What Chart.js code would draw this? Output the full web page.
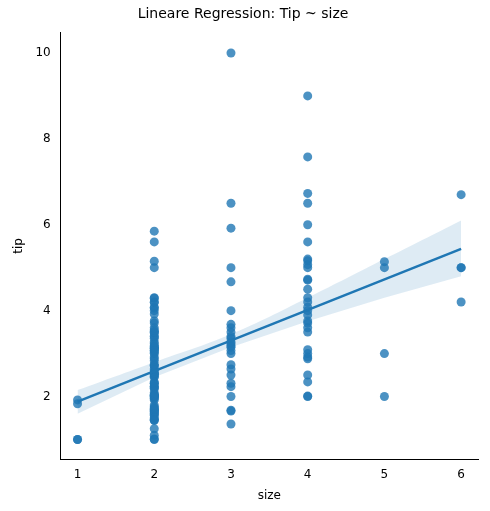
<!DOCTYPE html>
<html><head><meta charset="utf-8">
<script src="https://cdn.jsdelivr.net/npm/chart.js@4"></script>
<style>html,body{margin:0;background:#fff}#w{width:490px;height:511px}</style>
</head><body><div id="w"><canvas id="c"></canvas></div>
<script>
const size1=[1.0,1.92,1.83,1.0];
const size2=[1.0,1.01,1.1,1.25,1.44,1.45,1.47,1.5,1.56,1.58,1.61,1.64,1.66,1.67,1.7,1.71,1.73,1.76,1.8,1.92,1.96,1.97,2.0,2.01,2.02,2.03,2.05,2.09,2.18,2.2,2.23,2.24,2.3,2.31,2.34,2.45,2.47,2.5,2.52,2.54,2.55,2.6,2.64,2.71,2.72,2.75,2.83,2.88,2.92,3.0,3.02,3.06,3.08,3.11,3.12,3.14,3.16,3.18,3.23,3.27,3.35,3.39,3.41,3.48,3.5,3.51,3.55,3.6,3.71,3.76,3.92,4.0,4.06,4.08,4.19,4.2,4.29,4.3,5.0,5.15,5.6,5.85];
const size3=[1.36,1.66,1.68,2.0,2.23,2.31,2.5,2.64,2.74,3.0,3.07,3.15,3.18,3.23,3.27,3.35,3.4,3.5,3.6,3.68,4.0,4.67,5.0,5.92,6.5,10.0];
const size4=[2.0,2.01,2.34,2.5,2.88,2.92,3.0,3.09,3.5,3.6,3.71,3.76,3.9,4.0,4.08,4.2,4.3,4.5,4.71,4.73,5.0,5.07,5.16,5.2,5.6,6.0,6.5,6.73,7.58,9.0];
const size5=[2.0,3.0,5.0,5.14];
const size6=[4.2,5.0,5.0,6.7];
const bandX=[1,2,3,4,5,6];
const bandLow=[1.6,2.45,3.15,3.75,4.3,4.8];
const bandHigh=[2.15,2.8,3.45,4.3,5.2,6.1];
const lineX=[1,6];
const lineY=[1.88,5.44];
const groups=[size1,size2,size3,size4,size5,size6];
const pts=[];groups.forEach((g,i)=>g.forEach(v=>pts.push({x:i+1,y:v})));
const xy=(xs,ys)=>xs.map((x,i)=>({x,y:ys[i]}));
new Chart(document.getElementById('c'),{type:'scatter',data:{datasets:[
{type:'line',data:xy(bandX,bandLow),borderWidth:0,pointRadius:0,fill:false,order:3},
{type:'line',data:xy(bandX,bandHigh),borderWidth:0,pointRadius:0,fill:'-1',backgroundColor:'rgba(31,119,180,0.15)',tension:0.4,order:3},
{data:pts,backgroundColor:'rgba(31,119,180,0.8)',borderWidth:0,pointRadius:4.5,order:2},
{type:'line',data:xy(lineX,lineY),borderColor:'#1f77b4',borderWidth:2.5,pointRadius:0,order:1}
]},options:{animation:false,responsive:true,maintainAspectRatio:false,
layout:{padding:{top:0,right:12,left:8,bottom:4}},
plugins:{legend:{display:false},tooltip:{enabled:false},title:{display:true,text:'Lineare Regression: Tip ~ size',color:'#000',font:{family:'DejaVu Sans',size:14,weight:'normal'},padding:{top:6,bottom:10}}},
scales:{x:{min:0.78,max:6.22,afterBuildTicks:a=>{a.ticks=[1,2,3,4,5,6].map(v=>({value:v}))},grid:{display:false,drawTicks:true,tickLength:5,tickColor:'#000'},border:{color:'#000'},ticks:{color:'#000',font:{family:'DejaVu Sans',size:12}},title:{display:true,text:'size',color:'#000',font:{family:'DejaVu Sans',size:12}}},
y:{min:0.54,max:10.47,afterBuildTicks:a=>{a.ticks=[2,4,6,8,10].map(v=>({value:v}))},grid:{display:false,drawTicks:true,tickLength:5,tickColor:'#000'},border:{color:'#000'},ticks:{color:'#000',padding:5,font:{family:'DejaVu Sans',size:12}},title:{display:true,text:'tip',color:'#000',font:{family:'DejaVu Sans',size:12}}}}}});
</script></body></html>
